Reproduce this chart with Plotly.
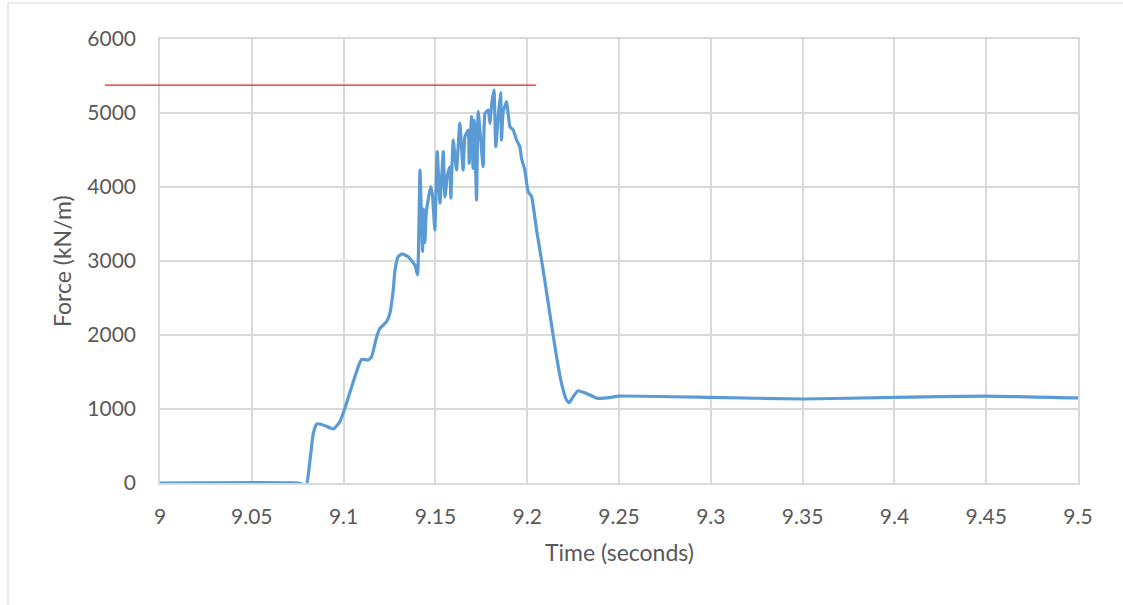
import plotly.graph_objects as go

# ---- data ----
time_s = [9.000, 9.0753, 9.0780, 9.0799, 9.0817, 9.0835, 9.0853, 9.0889, 9.0944, 9.0980,
          9.1007, 9.1044, 9.1080, 9.1098, 9.1134, 9.1153, 9.1180, 9.1198, 9.1234, 9.1252,
          9.1270, 9.1280, 9.1297, 9.1316, 9.1352, 9.1388, 9.1403, 9.1416, 9.1430, 9.1436,
          9.1443, 9.1450, 9.1474, 9.1484, 9.1497, 9.1510, 9.1525, 9.1543, 9.1552, 9.1565,
          9.1579, 9.1584, 9.1597, 9.1615, 9.1633, 9.1651, 9.1661, 9.1679, 9.1684, 9.1697,
          9.1705, 9.1712, 9.1724, 9.1733, 9.1760, 9.1770, 9.1788, 9.1797, 9.1806, 9.1819,
          9.1829, 9.1842, 9.1855, 9.1860, 9.1869, 9.1888, 9.1896, 9.1906, 9.1924, 9.1942,
          9.1960, 9.1969, 9.1987, 9.2005, 9.2024, 9.2051, 9.2087, 9.2123, 9.2160, 9.2187,
          9.2214, 9.2228, 9.2250, 9.2277, 9.2323, 9.2382, 9.2456, 9.2497, 9.300, 9.350,
          9.400, 9.450, 9.500]
force_kn_m = [0, 0, -20, -10, 311, 672, 797, 784, 730, 829,
              1009, 1301, 1572, 1672, 1662, 1707, 1977, 2090, 2180, 2290,
              2600, 2878, 3058, 3095, 3058, 2946, 2811, 4230, 3130, 3700,
              3250, 3650, 4004, 3892, 3419, 4477, 3784, 4477, 3869, 4150,
              4274, 3851, 4635, 4230, 4861, 4230, 4680, 4770, 4320, 4950,
              4253, 4900, 3824, 5018, 4275, 4996, 5041, 4861, 5108, 5311,
              4545, 4950, 5275, 4635, 5018, 5153, 4996, 4815, 4770, 4635,
              4545, 4388, 4230, 3937, 3869, 3419, 2878, 2293, 1707, 1347,
              1122, 1085, 1166, 1247, 1211, 1145, 1158, 1175, 1158, 1135,
              1158, 1175, 1150]

x_ticks = [9, 9.05, 9.1, 9.15, 9.2, 9.25, 9.3, 9.35, 9.4, 9.45, 9.5]
x_tick_labels = ["9", "9.05", "9.1", "9.15", "9.2", "9.25", "9.3", "9.35", "9.4", "9.45", "9.5"]
y_ticks = [0, 1000, 2000, 3000, 4000, 5000, 6000]
y_tick_labels = ["0", "1000", "2000", "3000", "4000", "5000", "6000"]

x_range = [9.0, 9.5]
y_range = [0, 6000]

# red reference line (limit value) and its extent in time
limit_value = 5378
limit_time_start = 8.970
limit_time_end = 9.2047

FONT = "Lato, Open Sans, sans-serif"
TXT = "#595959"
GRID = "#d9d9d9"

W, H = 1123, 605
ML, MR, MT, MB = 160, 45, 39, 122

fig = go.Figure()
fig.add_trace(go.Scatter(
    x=time_s, y=force_kn_m, mode="lines",
    line=dict(color="#5b9bd5", width=3.2, shape="spline", smoothing=0.4),
    showlegend=False, hoverinfo="x+y",
))

def to_paper_x(t):
    return (t - x_range[0]) / (x_range[1] - x_range[0])

fig.add_shape(type="line", xref="paper", yref="y",
              x0=to_paper_x(limit_time_start), x1=to_paper_x(limit_time_end),
              y0=limit_value, y1=limit_value,
              line=dict(color="#e8201a", width=1.3), layer="above")

# outer chart frame
pw = W - ML - MR
ph = H - MT - MB
fig.add_shape(type="rect", xref="paper", yref="paper",
              x0=(8 - ML) / pw, x1=(1200 - ML) / pw,
              y0=(H - MB - 640) / ph, y1=(H - MB - 3) / ph,
              line=dict(color=GRID, width=1.2), fillcolor="rgba(0,0,0,0)", layer="below")

fig.update_layout(
    width=W, height=H,
    margin=dict(l=ML, r=MR, t=MT, b=MB),
    paper_bgcolor="white", plot_bgcolor="white",
    font=dict(family=FONT, size=21, color=TXT),
    xaxis=dict(range=x_range, tickvals=x_ticks, ticktext=x_tick_labels,
               showgrid=True, gridcolor=GRID, gridwidth=1.6,
               showline=True, linecolor=GRID, linewidth=1.6, mirror=True,
               zeroline=False, ticks="", ticklabelstandoff=14,
               tickfont=dict(family=FONT, size=21, color=TXT)),
    yaxis=dict(range=y_range, tickvals=y_ticks, ticktext=y_tick_labels,
               showgrid=True, gridcolor=GRID, gridwidth=1.6,
               showline=True, linecolor=GRID, linewidth=1.6, mirror=True,
               zeroline=False, ticks="", ticklabelstandoff=18,
               tickfont=dict(family=FONT, size=21, color=TXT)),
    annotations=[
        dict(text="Time (seconds)", xref="paper", yref="paper",
             x=0.5, y=(H - MB - 552) / ph, xanchor="center", yanchor="middle",
             showarrow=False, font=dict(family=FONT, size=23, color=TXT)),
        dict(text="Force (kN/m)", xref="paper", yref="paper",
             x=(62 - ML) / pw, y=0.5, xanchor="center", yanchor="middle",
             textangle=-90, showarrow=False, font=dict(family=FONT, size=23, color=TXT)),
    ],
)

fig.write_html("out.html")
